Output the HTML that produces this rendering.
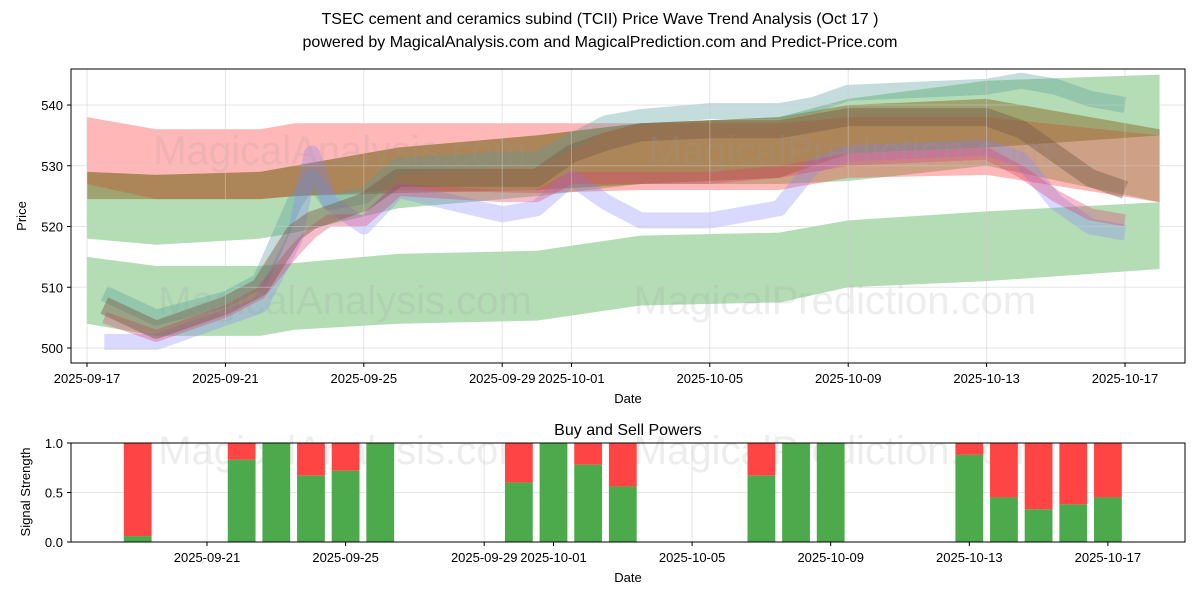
<!DOCTYPE html>
<html><head><meta charset="utf-8"><style>
body{margin:0;background:#fff;font-family:"Liberation Sans",sans-serif}
svg{display:block}
</style></head><body>
<svg id="c" width="1200" height="600" xmlns="http://www.w3.org/2000/svg">
<text x="600" y="24" text-anchor="middle" font-size="16">TSEC cement and ceramics subind (TCII) Price Wave Trend Analysis (Oct 17 )</text>
<text x="600" y="47" text-anchor="middle" font-size="16">powered by MagicalAnalysis.com and MagicalPrediction.com and Predict-Price.com</text>
<g id="topg"></g>
<g id="botg"></g>
</svg>
<script>
const NS="http://www.w3.org/2000/svg";
// day index from 2025-09-17
const bandDays=[0,2,5,6,9,13,16,20,22,26,31];
const greenUpTop=[529,528.5,529,530,533,535,537,538,541,544,545];
const greenUpBot=[518,517,518,519,523,525,527,527,527.5,530,524];
const greenLoTop=[515,513.5,513.5,514,515.5,516,518.5,519,521,522.5,524];
const greenLoBot=[504,502,502,503,504,504.5,507,507.5,510,511,513];
const redTop=[538,536,536,537,537,537,537,537,538,538,535];
const redBot=[527,524.5,524.5,525,526,525.5,526,526,528,528.5,524];
const brownTop=[529,528.5,529,530,533,535,537,538,540,541,536];
const brownBot=[524.5,524.5,524.5,525,525.5,526,527,528,532,533,535];
const waveDays=[0.5,2,4,5,6,6.5,7,8,9,12,13,14,15,16,18,20,21,22,26,27,28,29,30];
const waveHigh=[509,505,508,511,524,528,524,525,530,531,531,534,537,538,539,539,540,542,543,544,543,541,540];
const waveMid=[507,503,507,510,519,521,522,524,528,528,528,532,534,535.5,536,536,537,538,538,536,532,528,526];
const waveLow=[501,501,505,507,518,532,524,520,526,522,523,528,524,521,521,523,530,532,533,531,524,520,519];
const waveRed=[505,502,506,509,516,519,521,521,526,525,525,528,528,528,528,529,530,531,532,529,525,522,521];
const xTicks=["2025-09-17","2025-09-21","2025-09-25","2025-09-29","2025-10-01","2025-10-05","2025-10-09","2025-10-13","2025-10-17"];
const xTickDays=[0,4,8,12,14,18,22,26,30];
const yTicks=[500,510,520,530,540];
const barDays=[2,5,6,7,8,9,13,14,15,16,20,21,22,26,27,28,29,30];
const buyVals=[0.06,0.83,1,0.67,0.72,1,0.6,1,0.78,0.56,0.67,1,1,0.88,0.45,0.33,0.38,0.45];
const bTicks=[0,0.5,1];
const bXTicks=["2025-09-21","2025-09-25","2025-09-29","2025-10-01","2025-10-05","2025-10-09","2025-10-13","2025-10-17"];
const bXTickDays=[4,8,12,14,18,22,26,30];

const X=d=>87+d*34.6, Y=v=>348-(v-500)*6.075;
const BX=d=>68.4+d*34.65, BY=v=>542-v*99;
function el(t,a,p){const e=document.createElementNS(NS,t);for(const k in a)e.setAttribute(k,a[k]);p.appendChild(e);return e;}
const topG=document.getElementById('topg'), botG=document.getElementById('botg');
el('rect',{x:71,y:69,width:1114,height:294,fill:'#fff'},topG);
function band(days,t,b,col,op,name){
  let pts=days.map((d,i)=>X(d)+','+Y(t[i]));
  for(let i=days.length-1;i>=0;i--)pts.push(X(days[i])+','+Y(b[i]));
  const p=el('polygon',{points:pts.join(' '),fill:col,'fill-opacity':op},topG);
  
  
}
band(bandDays,greenUpTop,greenUpBot,'#4caf50',0.42,'green-upper-band');
band(bandDays,greenLoTop,greenLoBot,'#4caf50',0.42,'green-lower-band');
band(bandDays,redTop,redBot,'#ff3030',0.35,'red-band');
band(bandDays,brownTop,brownBot,'#8a6a2a',0.5,'brown-band');
function wave(v,col,w,op,name){
  const p=el('polyline',{points:waveDays.map((d,i)=>X(d)+','+Y(v[i])).join(' '),fill:'none',stroke:col,'stroke-width':w,'stroke-opacity':op,'stroke-linejoin':'round'},topG);
  
  
}
wave(waveHigh,'#5a9a9a',16,0.35,'wave-high');
wave(waveLow,'#8080ff',16,0.3,'wave-low');
wave(waveRed,'#e04070',12,0.35,'wave-red');
wave(waveMid,'#7a5a4a',18,0.45,'wave-mid');
[[340,150,'MagicalAnalysis.com'],[850,150,'MagicalPrediction.com'],[345,300,'MagicalAnalysis.com'],[835,300,'MagicalPrediction.com'],[345,450,'MagicalAnalysis.com'],[835,450,'MagicalPrediction.com']].forEach(w=>{
  const t=el('text',{x:w[0],y:w[1]+14,'text-anchor':'middle','font-size':40,fill:'#999','fill-opacity':0.18},topG);t.textContent=w[2];
  
  
});
yTicks.forEach(v=>{
  el('line',{x1:71,x2:1185,y1:Y(v),y2:Y(v),stroke:'#ccc','stroke-opacity':0.5},topG);
  el('line',{x1:67,x2:71,y1:Y(v),y2:Y(v),stroke:'#000'},topG);
  const t=el('text',{x:63,y:Y(v)+5,'text-anchor':'end','font-size':13},topG);t.textContent=v;
  
  
});
xTickDays.forEach((d,i)=>{
  el('line',{x1:X(d),x2:X(d),y1:69,y2:363,stroke:'#ccc','stroke-opacity':0.5},topG);
  el('line',{x1:X(d),x2:X(d),y1:363,y2:367,stroke:'#000'},topG);
  const t=el('text',{x:X(d),y:383,'text-anchor':'middle','font-size':13},topG);t.textContent=xTicks[i];
  
  
});
el('rect',{x:71,y:69,width:1114,height:294,fill:'none',stroke:'#000'},topG);
let t=el('text',{x:628,y:403,'text-anchor':'middle','font-size':13},topG);t.textContent='Date';

t=el('text',{x:26,y:216,'text-anchor':'middle','font-size':13,transform:'rotate(-90 26 216)'},topG);t.textContent='Price';

t=el('text',{x:628,y:435,'text-anchor':'middle','font-size':16},botG);t.textContent='Buy and Sell Powers';

bXTickDays.forEach(d=>el('line',{x1:BX(d),x2:BX(d),y1:443,y2:542,stroke:'#ccc','stroke-opacity':0.5},botG));
bTicks.forEach(v=>el('line',{x1:71,x2:1185,y1:BY(v),y2:BY(v),stroke:'#ccc','stroke-opacity':0.5},botG));
barDays.forEach((d,i)=>{
  const x=BX(d)-13.9,w=27.8;
  const s=el('rect',{x:x,y:BY(1),width:w,height:BY(buyVals[i])-BY(1),fill:'#ff4444'},botG);
  
  const b=el('rect',{x:x,y:BY(buyVals[i]),width:w,height:BY(0)-BY(buyVals[i]),fill:'#4caa4c'},botG);
  
});
bTicks.forEach(v=>{
  el('line',{x1:67,x2:71,y1:BY(v),y2:BY(v),stroke:'#000'},botG);
  const t=el('text',{x:63,y:BY(v)+5,'text-anchor':'end','font-size':13},botG);t.textContent=v.toFixed(1);
  
});
bXTickDays.forEach((d,i)=>{
  el('line',{x1:BX(d),x2:BX(d),y1:542,y2:546,stroke:'#000'},botG);
  const t=el('text',{x:BX(d),y:562,'text-anchor':'middle','font-size':13},botG);t.textContent=bXTicks[i];
  
});
el('rect',{x:71,y:443,width:1114,height:99,fill:'none',stroke:'#000'},botG);
t=el('text',{x:628,y:582,'text-anchor':'middle','font-size':13},botG);t.textContent='Date';

t=el('text',{x:30,y:492,'text-anchor':'middle','font-size':13,transform:'rotate(-90 30 492)'},botG);t.textContent='Signal Strength';

</script>
</body></html>
